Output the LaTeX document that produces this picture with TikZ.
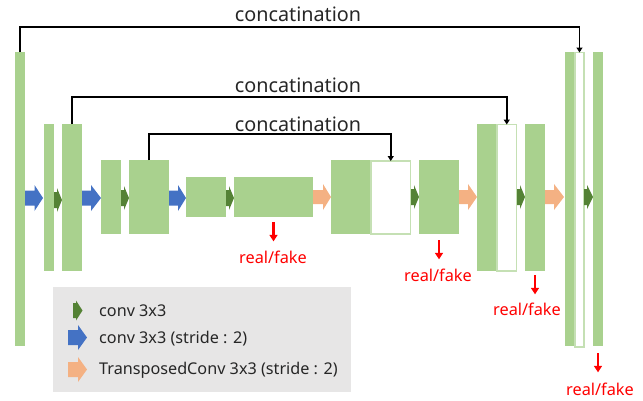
\documentclass[tikz,border=0pt]{standalone}
\usepackage{fontspec}
\setmainfont{Noto Sans}
\usetikzlibrary{arrows.meta,fit}
\definecolor{blkgreen}{HTML}{A9D18E}
\definecolor{lightline}{HTML}{C5E0B4}
\definecolor{darkgreen}{HTML}{548235}
\definecolor{arrblue}{HTML}{4472C4}
\definecolor{arrorange}{HTML}{F4B183}
\definecolor{leggray}{HTML}{E7E6E6}
\definecolor{txtgray}{HTML}{262626}
\newcommand\blockarrow[7]{% x0, xh, xt, yc, shaft half, head half, color
  \fill[#7] (#1,#4-#5) -- (#2,#4-#5) -- (#2,#4-#6) -- (#3,#4) -- (#2,#4+#6) -- (#2,#4+#5) -- (#1,#4+#5) -- cycle;}
\tikzset{
  blk/.style={fill=blkgreen, inner sep=0pt, outer sep=0pt},
  wbox/.style={fill=white, draw=lightline, line width=1.2pt, inner sep=0pt, outer sep=0pt},
  cat/.style={draw=black, line width=1.5pt, -{Triangle[length=5pt,width=6pt]}},
  catlbl/.style={font=\fontsize{19.8}{22}\selectfont, text=txtgray, inner sep=0pt, anchor=base},
  rf/.style={draw=red, line width=2.3pt, -{Triangle[length=6.5pt,width=8pt]}},
  rflbl/.style={font=\fontsize{16.3}{18}\selectfont, text=red, inner sep=0pt, anchor=base},
  leglbl/.style={font=\fontsize{16.2}{18}\selectfont, text=txtgray, inner sep=0pt, anchor=base west},
}
\begin{document}
\begin{tikzpicture}[x=1pt,y=-1pt]
\useasboundingbox (0,0) rectangle (643,400);
% blocks
\node[blk, fit={(15,52) (25,346)}] (b1) {};
\node[blk, fit={(44,124) (54,271)}] (b2) {};
\node[blk, fit={(62,124) (82,271)}] (b3) {};
\node[blk, fit={(101,160) (121,234)}] (b4) {};
\node[blk, fit={(129,160) (169,234)}] (b5) {};
\node[blk, fit={(186,177) (226,217)}] (b6) {};
\node[blk, fit={(234,177) (313,217)}] (b7) {};
\node[blk, fit={(331,160) (371,234)}] (b8) {};
\node[wbox, fit={(371,161) (410.5,234)}] (w8) {};
\node[blk, fit={(419,160) (459,234)}] (b9) {};
\node[blk, fit={(477,124) (497,271)}] (b10) {};
\node[wbox, fit={(497,124.5) (516.5,271)}] (w10) {};
\node[blk, fit={(525,124) (545,271)}] (b11) {};
\node[blk, fit={(565,52) (575,346)}] (b12) {};
\node[wbox, fit={(575,52.5) (584,347)}] (w12) {};
\node[blk, fit={(593,52) (603,346)}] (b13) {};
% block arrows
\blockarrow{25}{34.5}{43}{198}{7.5}{13}{arrblue}
\blockarrow{54}{57}{62}{200}{8}{12}{darkgreen}
\blockarrow{82}{91}{101}{198}{7.5}{13}{arrblue}
\blockarrow{121}{124}{129}{198}{8}{12}{darkgreen}
\blockarrow{169}{178}{186}{198}{7.5}{13}{arrblue}
\blockarrow{226}{229}{234}{198}{8}{12}{darkgreen}
\blockarrow{313}{323}{331}{197}{7}{13}{arrorange}
\blockarrow{411}{414}{419}{197}{8}{12}{darkgreen}
\blockarrow{459}{468}{477}{197}{7}{13}{arrorange}
\blockarrow{517}{520}{525}{197}{8}{12}{darkgreen}
\blockarrow{545}{554}{564}{197}{7}{13}{arrorange}
\blockarrow{584}{587}{593}{197}{8}{12}{darkgreen}
% concatenations
\draw[cat] (b1.north) -- ++(0,-25) -| (w12.north);
\draw[cat] (b3.north) -- ++(0,-27) -| (w10.north);
\draw[cat] (b5.north) -- ++(0,-26) -| (w8.north);
\node[catlbl] (c1) at (298,21) {concatination};
\node[catlbl] (c2) at (298,92.5) {concatination};
\node[catlbl] (c3) at (298,131.5) {concatination};
% real/fake
\node[rflbl] (r1) at (273,263) {real/fake};
\node[rflbl] (r2) at (438,281) {real/fake};
\node[rflbl] (r3) at (527,315) {real/fake};
\node[rflbl] (r4) at (600,395.5) {real/fake};
\draw[rf, shorten <=5pt, shorten >=9pt] (b7.south) -- (b7.south |- r1.north);
\draw[rf, shorten <=6pt, shorten >=9pt] (b9.south) -- (b9.south |- r2.north);
\draw[rf, shorten <=4pt, shorten >=8pt] (b11.south) -- (b11.south |- r3.north);
\draw[rf, shorten <=7pt, shorten >=10.5pt] (b13.south) -- (b13.south |- r4.north);
% legend
\node[fill=leggray, inner sep=0pt, fit={(53,287) (351,392)}] (leg) {};
\blockarrow{73}{76}{82.5}{310.5}{7.5}{10}{darkgreen}
\blockarrow{68}{78}{87}{337.5}{7.5}{12.5}{arrblue}
\blockarrow{68}{78}{87}{369.5}{7.5}{12.5}{arrorange}
\node[leglbl] (l1) at (99,316) {conv 3x3};
\node[leglbl] (l2) at (99,343.5) {conv 3x3 (stride : 2)};
\node[leglbl] (l3) at (99,374.5) {TransposedConv 3x3 (stride : 2)};
\end{tikzpicture}
\end{document}
